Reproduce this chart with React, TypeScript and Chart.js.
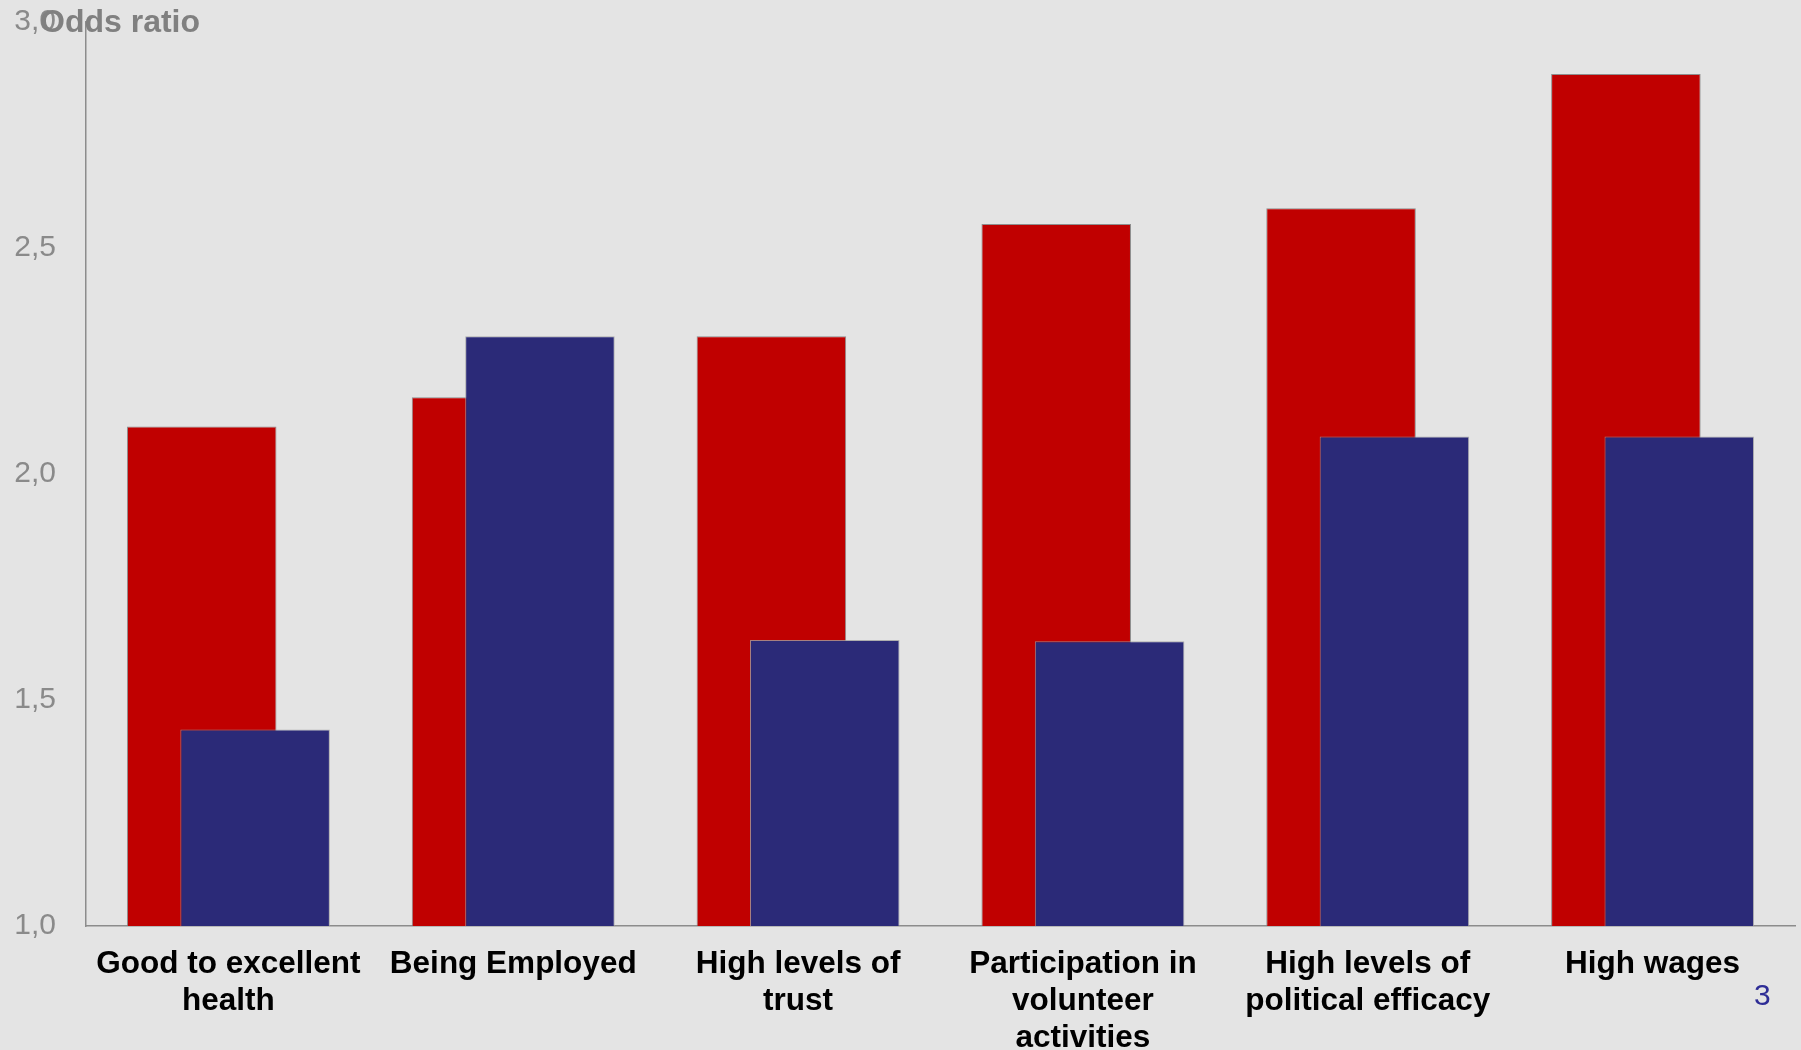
import React, { useEffect, useRef } from 'react';
import { Chart, registerables } from 'chart.js';

Chart.register(...registerables);

const categories: string[][] = [
  ['Good to excellent', 'health'],
  ['Being Employed'],
  ['High levels of', 'trust'],
  ['Participation in', 'volunteer', 'activities'],
  ['High levels of', 'political efficacy'],
  ['High wages'],
];

const redValues = [2.105, 2.17, 2.305, 2.553, 2.588, 2.885];
const blueValues = [1.435, 2.305, 1.633, 1.63, 2.083, 2.083];

const yMin = 1;
const yMax = 3;
const yStep = 0.5;

const FONT = '"Liberation Sans", Arial, sans-serif';

// Chart.js paints dataset 0 last; hold the second (blue) set back so it sits over the red one
const blueOnTop = {
  id: 'blueOnTop',
  beforeDatasetDraw(_chart: any, args: any) {
    if (args.index === 1) return false;
  },
  afterDatasetsDraw(chart: any) {
    const { ctx, chartArea } = chart;
    ctx.save();
    ctx.beginPath();
    ctx.rect(chartArea.left, chartArea.top - 2, chartArea.right - chartArea.left, chartArea.bottom - chartArea.top + 2);
    ctx.clip();
    chart.getDatasetMeta(1).controller.draw();
    ctx.restore();
  },
};

const App: React.FC = () => {
  const canvasRef = useRef<HTMLCanvasElement>(null);
  const chartRef = useRef<Chart | null>(null);

  useEffect(() => {
    if (!canvasRef.current) return;
    if (chartRef.current) chartRef.current.destroy();

    chartRef.current = new Chart(canvasRef.current, {
      type: 'bar',
      data: {
        labels: categories,
        datasets: [
          {
            label: 'Red',
            data: redValues,
            backgroundColor: '#c00000',
            borderColor: 'rgba(120,120,120,0.8)',
            borderWidth: 1,
          },
          {
            label: 'Blue',
            data: blueValues,
            backgroundColor: '#2b2a78',
            borderColor: 'rgba(160,160,160,0.8)',
            borderWidth: 1,
          },
        ],
      },
      options: {
        responsive: false,
        animation: false,
        categoryPercentage: 0.375,
        barPercentage: 2.8,
        layout: { padding: { top: 22, right: 6, left: 0, bottom: 0 } },
        plugins: {
          legend: { display: false },
          tooltip: { enabled: false },
          title: { display: false },
        },
        scales: {
          x: {
            grid: { display: false, drawTicks: false },
            border: { display: true, color: '#8c8c8c', width: 1.5 },
            ticks: {
              color: '#000000',
              font: { family: FONT, size: 31.5, weight: 'bold', lineHeight: 1.17 },
              padding: 20,
              maxRotation: 0,
              autoSkip: false,
            },
            afterFit: (scale: any) => {
              scale.height = 124;
            },
          },
          y: {
            min: yMin,
            max: yMax,
            grid: { display: false, drawTicks: false },
            border: { display: true, color: '#8c8c8c', width: 1.5 },
            ticks: {
              stepSize: yStep,
              color: '#8a8a8a',
              font: { family: FONT, size: 30 },
              padding: 30,
              callback: (v: any) => Number(v).toFixed(1).replace('.', ','),
            },
            afterFit: (scale: any) => {
              scale.width = 86;
              scale.paddingTop = 0;
              scale.paddingBottom = 0;
            },
          },
        },
      },
      plugins: [blueOnTop],
    });

    return () => {
      if (chartRef.current) {
        chartRef.current.destroy();
        chartRef.current = null;
      }
    };
  }, []);

  return (
    <div
      style={{
        position: 'fixed',
        left: 0,
        top: 0,
        width: 1801,
        height: 1050,
        background: '#e4e4e4',
        overflow: 'hidden',
      }}
    >
      <canvas ref={canvasRef} width={1801} height={1050} style={{ width: 1801, height: 1050, display: 'block' }} />
      <div
        style={{
          position: 'absolute',
          left: 40,
          top: 3,
          fontFamily: FONT,
          fontWeight: 'bold',
          fontSize: 32,
          lineHeight: '36px',
          color: '#808080',
        }}
      >
        Odds ratio
      </div>
      <div
        style={{
          position: 'absolute',
          left: 1754,
          top: 978,
          fontFamily: FONT,
          fontSize: 30,
          lineHeight: '34px',
          color: '#2e2d96',
        }}
      >
        3
      </div>
    </div>
  );
};

export default App;
